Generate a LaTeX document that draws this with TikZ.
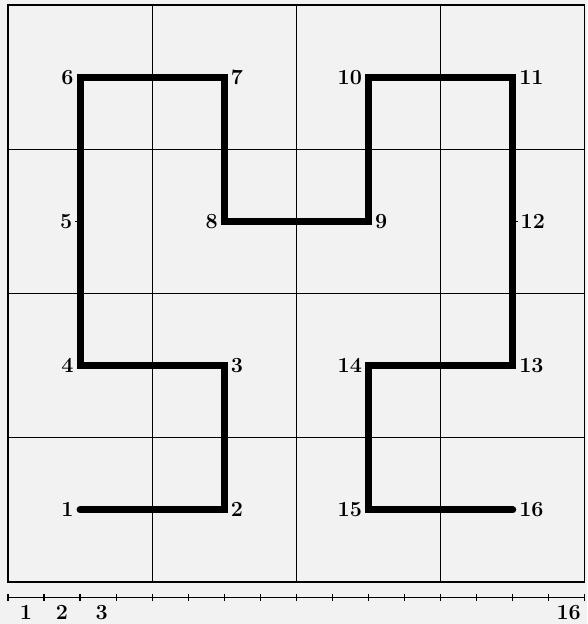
\documentclass[tikz,border=0pt]{standalone}
\usetikzlibrary{positioning}
\begin{document}
\begin{tikzpicture}[
    route/.style={line width=5.5pt, line cap=round, line join=miter},
    gridline/.style={line width=0.9pt},
    num/.style={font=\fontsize{17}{19}\selectfont\bfseries, inner sep=2pt}
  ]

  % Paper and page size
  \fill[black!5] (-0.22,-1.165) rectangle (16.06,16.14);
  \useasboundingbox (-0.22,-1.165) rectangle (16.06,16.14);

  % The square divided into 4 x 4 cells
  \draw[gridline] (0,0) rectangle (16,16);
  \foreach \k in {4,8,12} {
    \draw[gridline] (\k,0) -- (\k,16);
    \draw[gridline] (0,\k) -- (16,\k);
  }

  % The sixteen turning points of the curve
  \coordinate (p1)  at (2,2);
  \coordinate (p2)  at (6,2);
  \coordinate (p3)  at (6,6);
  \coordinate (p4)  at (2,6);
  \coordinate (p5)  at (2,10);
  \coordinate (p6)  at (2,14);
  \coordinate (p7)  at (6,14);
  \coordinate (p8)  at (6,10);
  \coordinate (p9)  at (10,10);
  \coordinate (p10) at (10,14);
  \coordinate (p11) at (14,14);
  \coordinate (p12) at (14,10);
  \coordinate (p13) at (14,6);
  \coordinate (p14) at (10,6);
  \coordinate (p15) at (10,2);
  \coordinate (p16) at (14,2);

  % The curve itself
  \draw[route] (p1) -- (p2) -- (p3) -- (p4) -- (p5) -- (p6) -- (p7) -- (p8)
    -- (p9) -- (p10) -- (p11) -- (p12) -- (p13) -- (p14) -- (p15) -- (p16);

  % Small marks where the curve passes straight through 5 and 12
  \draw[gridline] (p5) -- ++(-0.15,0);
  \draw[gridline] (p12) -- ++(0.15,0);

  % Labels of the points
  \node[num, left=3pt of p1]  (l1)  {1};
  \node[num, below right=-8pt and 3pt of p2] (l2) {2};
  \node[num, above right=-8pt and 3pt of p3] (l3) {3};
  \node[num, left=3pt of p4]  (l4)  {4};
  \node[num, left=4pt of p5]  (l5)  {5};
  \node[num, left=3pt of p6]  (l6)  {6};
  \node[num, right=3pt of p7] (l7)  {7};
  \node[num, below left=-8pt and 3pt of p8] (l8) {8};
  \node[num, right=3pt of p9] (l9)  {9};
  \node[num, left=3pt of p10]  (l10) {10};
  \node[num, right=3pt of p11] (l11) {11};
  \node[num, right=4pt of p12] (l12) {12};
  \node[num, right=3pt of p13] (l13) {13};
  \node[num, left=3pt of p14]  (l14) {14};
  \node[num, left=3pt of p15]  (l15) {15};
  \node[num, right=3pt of p16] (l16) {16};

  % Scale of sixteen parts below the square
  \coordinate (s0) at (0,-0.44);
  \coordinate (s16) at (16,-0.44);
  \draw[gridline] (s0) -- (s16);
  \foreach \k in {0,...,16}
    \draw[gridline] (\k,-0.34) -- (\k,-0.52);
  \node[num] (n1)  at (0.5,-0.85)  {1};
  \node[num] (n2)  at (1.5,-0.85)  {2};
  \node[num] (n3)  at (2.6,-0.85)  {3};
  \node[num] (n16) at (15.55,-0.85) {16};

\end{tikzpicture}
\end{document}
